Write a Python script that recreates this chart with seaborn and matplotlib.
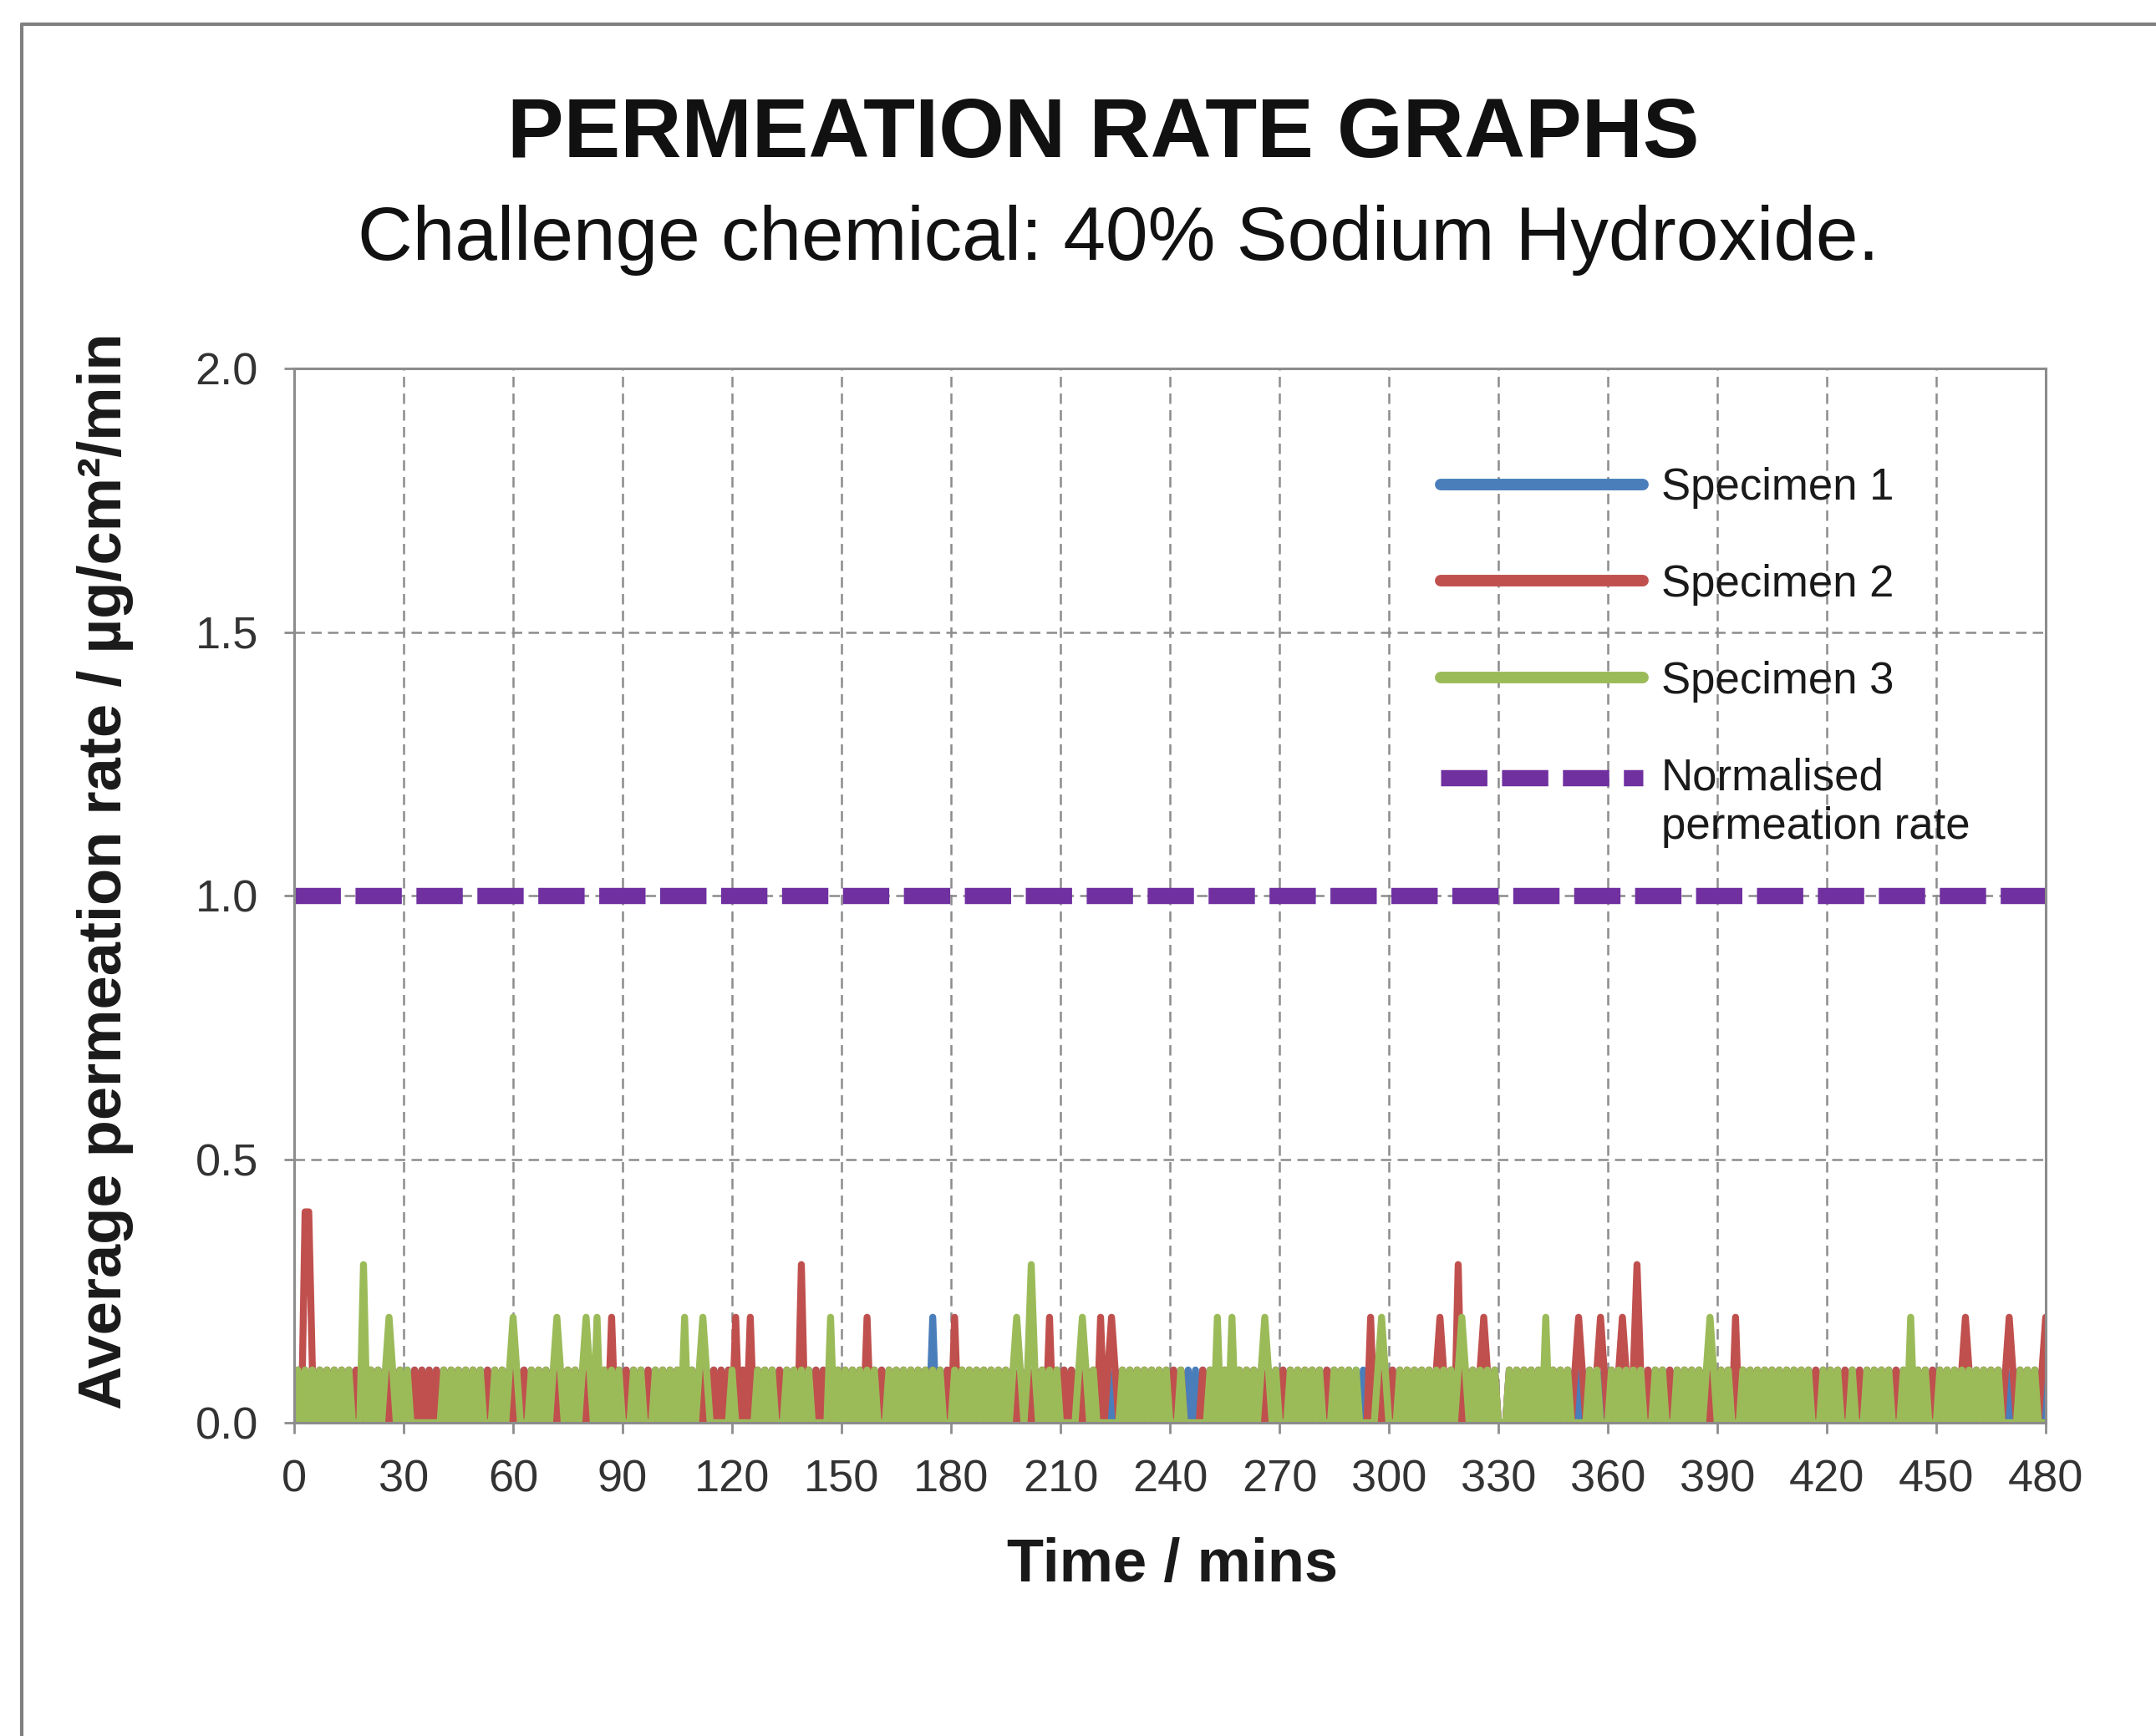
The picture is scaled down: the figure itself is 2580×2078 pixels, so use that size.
import numpy as np
import pandas as pd
import matplotlib
matplotlib.use("Agg")
import matplotlib.pyplot as plt
from matplotlib.lines import Line2D
from matplotlib.ticker import FormatStrFormatter
import seaborn as sns

# ---------------------------------------------------------------- data ----
# Readings every minute from 0 to 480 min, one digit per minute, value given
# in tenths of µg/cm²/min.  Each string covers one 30-minute block.
specimen1_blocks = [
    "010101010101010101010101010101",  # 0-29
    "010101010101010101010101010101",  # 30-59
    "010101010101010101010101010101",  # 60-89
    "010101010101010101010101010101",  # 90-119
    "010101010101010101010101010101",  # 120-149
    "010101010101010101010101020101",  # 150-179
    "010101010101010101010101010101",  # 180-209
    "010101010101010101010101010101",  # 210-239
    "010101010101010101010101010101",  # 240-269
    "010101010101010101010101010101",  # 270-299
    "010101010101010101010101010101",  # 300-329
    "000101010101010101010101010101",  # 330-359
    "010101010101010101010101010101",  # 360-389
    "010101010101010101010101010101",  # 390-419
    "010101010101010101010101010101",  # 420-449
    "010101010101010101010101010101",  # 450-479
]
specimen1_end = "0"

specimen2_blocks = [
    "010441010101010101010101010101",
    "000101010101010101010101010101",
    "010101010101010101010101010201",
    "010101010101010101010101010101",
    "020102010101010101030101010101",
    "010101020101010101010101010101",
    "020101010101010101010101010201",
    "010101010102012101010101010101",
    "010100000101010101010101010101",
    "010101010101010101010000020101",
    "010101010101012101030101012101",
    "000101010101010101010121010121",
    "010121013101010101010101010101",
    "010102010101010101010101010101",
    "010101010101010101010101010101",
    "010101012101010101012101010101",
]
specimen2_end = "2"

specimen3_blocks = [
    "010101010101010100030101012101",
    "010000000001010101010100010101",
    "210001010101210101012102010101",
    "000101000101010102010121000000",
    "100000010101000101010100000201",
    "010101010100010101010101010100",
    "010101010101010101210131010101",
    "000001210100000001010101010101",
    "000100000001020102010101012101",
    "000101010101000101010100000121",
    "000101010101010101012101010101",
    "000101010101020101010000010100",
    "010101010100010100010101010121",
    "010100010101010101010101010001",
    "010100010001010101000102010100",
    "010101010101010101000001010100",
]
specimen3_end = "0"

series_names = ["Specimen 1", "Specimen 2", "Specimen 3"]
normalised_time = [0, 480]
normalised_rate = [1.0, 1.0]

x_ticks = list(range(0, 481, 30))
y_ticks = [0.0, 0.5, 1.0, 1.5, 2.0]

title_text = "PERMEATION RATE GRAPHS"
subtitle_text = "Challenge chemical: 40% Sodium Hydroxide."
x_label = "Time / mins"
y_label = "Average permeation rate / µg/cm²/min"
legend_labels = ["Specimen 1", "Specimen 2", "Specimen 3", "Normalised\npermeation rate"]


def decode(blocks, end):
    s = "".join(blocks) + end
    return np.array([int(c) for c in s], dtype=float) / 10.0


rates = [decode(specimen1_blocks, specimen1_end),
         decode(specimen2_blocks, specimen2_end),
         decode(specimen3_blocks, specimen3_end)]
for r in rates:
    assert len(r) == 481, len(r)
time = np.arange(481)

df = pd.DataFrame({
    "Time": np.tile(time, 3),
    "Rate": np.concatenate(rates),
    "Specimen": np.repeat(series_names, len(time)),
})

# -------------------------------------------------------------- style -----
sns.set_style("white")
plt.rcParams["font.family"] = ["Liberation Sans", "DejaVu Sans"]

colors = {"Specimen 1": "#4A7EBB", "Specimen 2": "#C0504D", "Specimen 3": "#9BBB59"}
purple = "#7030A0"
grid_gray = "#8C8C8C"
norm_dash = (0, (2.85, 0.9))

fig = plt.figure(figsize=(25.8, 20.78), dpi=100)
ax = fig.add_axes([352 / 2580, 1 - 1703 / 2078, 2096 / 2580, 1262 / 2078])

sns.lineplot(data=df, x="Time", y="Rate", hue="Specimen", hue_order=series_names,
             palette=colors, estimator=None, sort=False, linewidth=6,
             legend=False, ax=ax)
sns.lineplot(x=normalised_time, y=normalised_rate, color=purple, linewidth=14,
             ax=ax, legend=False)
ax.lines[-1].set_linestyle(norm_dash)
ax.lines[-1].set_dash_capstyle("butt")

ax.set_xlim(0, 480)
ax.set_ylim(0, 2.0)
ax.set_xticks(x_ticks)
ax.set_yticks(y_ticks)
ax.yaxis.set_major_formatter(FormatStrFormatter("%.1f"))
ax.set_axisbelow(True)
ax.grid(True, color=grid_gray, linestyle=(0, (5, 3)), linewidth=1.8)

for sp in ax.spines.values():
    sp.set_color(grid_gray)
    sp.set_linewidth(2.2)

ax.tick_params(axis="both", which="major", bottom=True, left=True,
               direction="out", length=9, width=2, color=grid_gray,
               labelsize=39, labelcolor="#333333")
ax.tick_params(axis="x", pad=22)
ax.tick_params(axis="y", pad=22)

ax.set_xlabel(x_label, fontsize=52, fontweight="bold", color="#1a1a1a")
ax.set_ylabel(y_label, fontsize=52, fontweight="bold", color="#1a1a1a")
ax.xaxis.set_label_coords(0.5014, -0.1086)
ax.yaxis.set_label_coords(-0.0916, 0.523)

# legend
handles = [Line2D([], [], color=colors[n], lw=10, solid_capstyle="round") for n in series_names]
handles.append(Line2D([], [], color=purple, lw=14, linestyle=norm_dash,
                      dash_capstyle="butt"))
leg = ax.legend(handles, legend_labels, loc="upper left",
                bbox_to_anchor=(0.6546, 0.9065), frameon=False, fontsize=38,
                handlelength=4.58, handletextpad=0.42, labelspacing=1.25,
                borderpad=0, borderaxespad=0)
for t in leg.get_texts():
    t.set_color("#1a1a1a")
norm_handle = leg.get_lines()[3]
norm_handle.set_ydata(np.asarray(norm_handle.get_ydata(), dtype=float) + 22.5)

# titles
fig.text(1320 / 2580, 1 - 188 / 2078, title_text, ha="center", va="baseline",
         fontsize=73, fontweight="bold", color="#111111")
fig.text(1338 / 2580, 1 - 311 / 2078, subtitle_text, ha="center", va="baseline",
         fontsize=65.5, color="#111111")

# outer frame (top and left edges of the page border)
x0 = 26 / 2580
y0 = 1 - 29 / 2078
fig.add_artist(Line2D([x0, 1.0], [y0, y0], transform=fig.transFigure,
                      color="#808080", lw=3))
fig.add_artist(Line2D([x0, x0], [0.0, y0], transform=fig.transFigure,
                      color="#808080", lw=3))

fig.savefig("out.png", dpi=100)
